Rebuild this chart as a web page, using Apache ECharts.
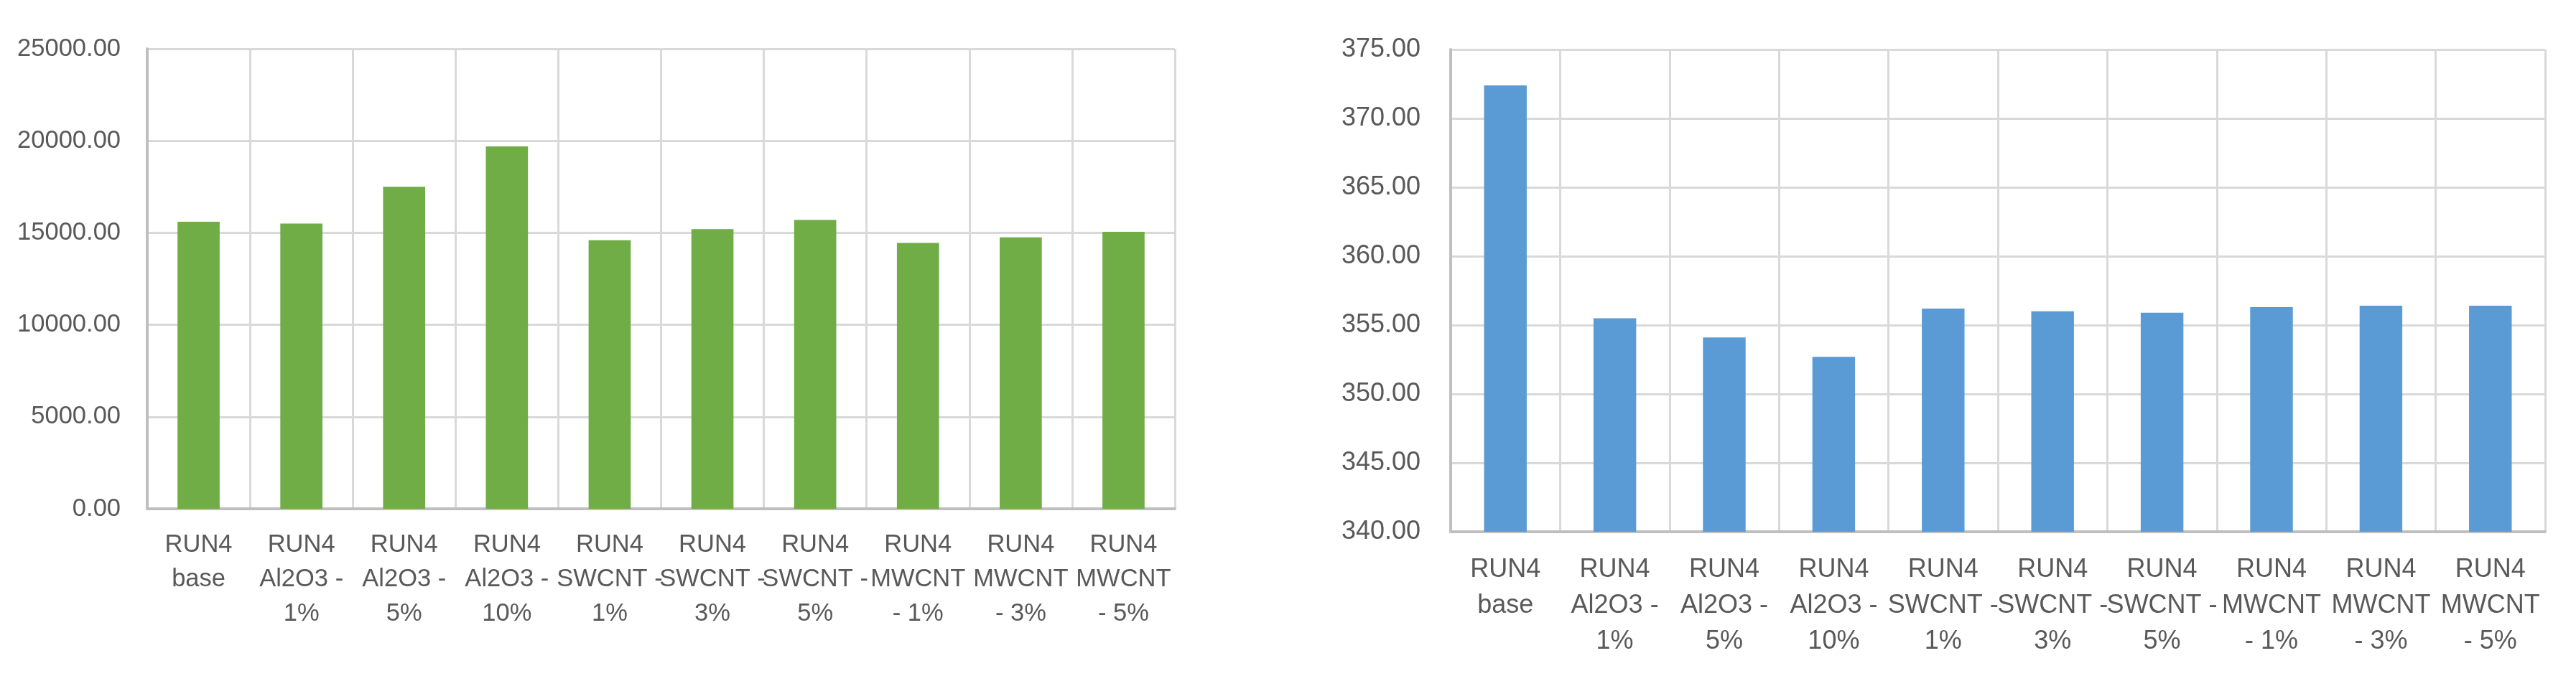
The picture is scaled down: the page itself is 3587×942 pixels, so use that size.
<!DOCTYPE html>
<html>
<head>
<meta charset="utf-8">
<script src="https://cdn.jsdelivr.net/npm/echarts@6/dist/echarts.min.js"></script>
<style>
html,body{margin:0;padding:0;background:#fff;}
#c{width:3587px;height:942px;}
</style>
</head>
<body>
<div id="c"></div>
<script>
// Category tick labels (wrapped as in the reference)
var categories = [
  'RUN4\nbase',
  'RUN4\nAl2O3 -\n1%',
  'RUN4\nAl2O3 -\n5%',
  'RUN4\nAl2O3 -\n10%',
  'RUN4\nSWCNT -\n1%',
  'RUN4\nSWCNT -\n3%',
  'RUN4\nSWCNT -\n5%',
  'RUN4\nMWCNT\n- 1%',
  'RUN4\nMWCNT\n- 3%',
  'RUN4\nMWCNT\n- 5%'
];
// Left chart values (green)
var leftValues = [15600, 15500, 17500, 19700, 14600, 15200, 15700, 14450, 14750, 15050];
// Right chart values (blue)
var rightValues = [372.4, 355.5, 354.1, 352.7, 356.2, 356.0, 355.9, 356.3, 356.4, 356.4];
// Axis ranges
var leftAxis = {min: 0, max: 25000, interval: 5000};
var rightAxis = {min: 340, max: 375, interval: 5};

var FONT = '"Liberation Sans", Arial, sans-serif';
var LABEL = '#595959';
var GRID = '#D9D9D9';
var AXIS = '#BFBFBF';

function xAxisCfg(gridIndex, fs, lh, margin) {
  return {
    type: 'category', gridIndex: gridIndex, data: categories, boundaryGap: true,
    axisLine: {show: true, lineStyle: {color: AXIS, width: 4}},
    axisTick: {show: false},
    splitLine: {show: true, interval: 0, lineStyle: {color: GRID, width: 3}},
    axisLabel: {interval: 0, color: LABEL, fontFamily: FONT, fontSize: fs, lineHeight: lh, margin: margin, align: 'center'}
  };
}
function yAxisCfg(gridIndex, rng, fs, margin) {
  return {
    type: 'value', gridIndex: gridIndex, min: rng.min, max: rng.max, interval: rng.interval,
    axisLine: {show: true, lineStyle: {color: AXIS, width: 4}},
    axisTick: {show: false},
    splitLine: {show: true, lineStyle: {color: GRID, width: 3}},
    axisLabel: {color: LABEL, fontFamily: FONT, fontSize: fs, margin: margin,
      formatter: function (v) { return v.toFixed(2); }}
  };
}

var chart = echarts.init(document.getElementById('c'), null, {renderer: 'canvas'});
chart.setOption({
  backgroundColor: '#ffffff',
  animation: false,
  grid: [
    {left: 205, top: 68, width: 1431, height: 641, containLabel: false},
    {left: 2020, top: 69, width: 1524, height: 672, containLabel: false}
  ],
  xAxis: [xAxisCfg(0, 34.5, 48, 26), xAxisCfg(1, 36, 50, 28)],
  yAxis: [yAxisCfg(0, leftAxis, 34.5, 37), yAxisCfg(1, rightAxis, 36, 42)],
  series: [
    {type: 'bar', xAxisIndex: 0, yAxisIndex: 0, data: leftValues, barWidth: '41%',
      itemStyle: {color: '#70AD47'}},
    {type: 'bar', xAxisIndex: 1, yAxisIndex: 1, data: rightValues, barWidth: '39%',
      itemStyle: {color: '#5B9BD5'}}
  ]
});
</script>
</body>
</html>
